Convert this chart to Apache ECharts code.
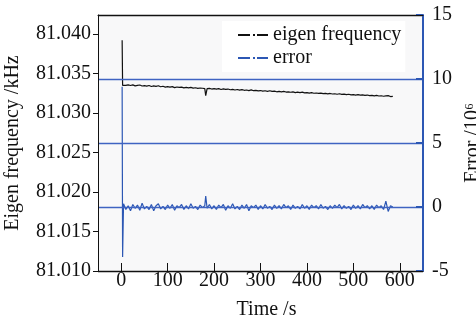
<!DOCTYPE html>
<html><head><meta charset="utf-8">
<script src="https://cdn.jsdelivr.net/npm/echarts@6/dist/echarts.min.js"></script>
<style>html,body{margin:0;padding:0;background:#fff}#c{width:476px;height:320px}</style>
</head><body><div id="c"></div>
<script>
const timeS = [2,3,5,10,15,20,25,30,35,40,45,50,55,60,65,70,75,80,85,90,95,100,105,110,115,120,125,130,135,140,145,150,155,160,165,170,175,180,182,
185,190,195,200,205,210,215,220,225,230,235,240,245,250,255,260,265,270,275,280,285,290,295,300,305,310,315,320,325,330,335,340,345,350,355,360,365,370,375,380,385,390,395,400,405,410,415,420,425,430,435,440,445,450,455,460,465,470,475,480,485,490,495,500,505,510,515,520,525,530,535,540,545,550,555,560,565,570,575,580,585];

const eigenFreq = [81.0392,81.0335,
81.03357,81.03349,81.03356,81.03348,81.03356,81.03343,81.03350,81.03354,81.03341,81.03346,
81.03340,81.03348,81.03335,81.03342,81.03336,81.03345,81.03332,81.03338,81.03328,81.03333,
81.03328,81.03334,81.03321,81.03329,81.03323,81.03328,81.03318,81.03323,81.03317,81.03324,
81.03315,81.03319,81.03311,81.03316,81.03313,81.03308,
81.0322,
81.03308,81.03312,81.03303,81.03308,81.03302,81.03308,81.03297,81.03304,81.03298,81.03303,
81.03294,81.03298,81.03291,81.03297,81.03290,81.03296,81.03287,81.03291,81.03283,81.03292,
81.03282,81.03286,81.03280,81.03284,81.03276,81.03281,81.03274,81.03281,81.03273,81.03277,
81.03268,81.03273,81.03267,81.03273,81.03265,81.03268,81.03262,81.03267,81.03258,81.03263,
81.03258,81.03263,81.03254,81.03258,81.03251,81.03257,81.03250,81.03253,81.03247,81.03252,
81.03245,81.03248,81.03241,81.03247,81.03240,81.03243,81.03237,81.03243,81.03235,81.03238,
81.03232,81.03237,81.03230,81.03233,81.03227,81.03232,81.03225,81.03228,81.03222,81.03227,
81.03220,81.03223,81.03217,81.03222,81.03215,81.03218,81.03212,81.03216,81.03220,81.03208,81.03211];

const errorVal = [9.4,-3.9,
0.25,-0.2,0.1,-0.3,0.2,-0.1,0.15,-0.25,0.3,-0.15,
0.05,-0.2,0.2,-0.3,0.1,0.25,-0.15,0.05,-0.2,0.15,
-0.1,0.2,-0.25,0.1,-0.05,0.2,-0.2,0.1,-0.15,0.25,
-0.1,0.05,-0.2,0.15,-0.05,0.1,
0.85,
-0.1,0.2,-0.15,0.1,-0.2,0.15,-0.05,0.2,-0.25,0.1,
-0.1,0.25,-0.15,0.05,-0.2,0.15,-0.1,0.2,-0.3,0.1,
-0.05,0.15,-0.2,0.1,-0.15,0.2,-0.1,0.05,-0.2,0.15,
-0.1,0.1,-0.15,0.2,-0.05,0.1,-0.2,0.15,-0.1,0.05,
-0.15,0.2,-0.1,0.1,-0.2,0.15,-0.05,0.1,-0.15,0.2,
-0.1,0.05,-0.2,0.1,-0.1,0.15,-0.05,0.2,-0.15,0.1,
-0.1,0.05,-0.2,0.15,-0.1,0.1,-0.15,0.2,-0.05,0.1,
-0.15,0.1,-0.2,0.15,-0.05,0.1,-0.2,0.45,-0.35,0.1,
0.0];

const freqTicks = [81.010,81.015,81.020,81.025,81.030,81.035,81.040];
const timeTicks = [0,100,200,300,400,500,600];
const seriesNames = ['eigen frequency','error'];
const axisNames = ['Eigen frequency /kHz','Error /10\u2076','Time /s'];

const FONT = 'Liberation Serif';
const FS = 20;
const BLUE = '#2c57b4';
const GRIDBLUE = '#3f63c2';
const dashDot = 'path://M0,7h12v2h-12z M15,7h2v2h-2z M19,7h11v2h-11z';

const chart = echarts.init(document.getElementById('c'), null, {renderer:'canvas'});
chart.setOption({
  animation:false,
  backgroundColor:'#fff',
  textStyle:{fontFamily:FONT},
  grid:{left:98,right:53,top:15,bottom:49,containLabel:false,outerBoundsMode:'none',
        show:true,backgroundColor:'#f8f8f9',borderWidth:0},
  legend:{
    data:[{name:seriesNames[0],icon:dashDot},{name:seriesNames[1],icon:dashDot}],
    orient:'vertical',left:222,top:21,backgroundColor:'#fff',
    padding:[4,4,4,16],itemWidth:30,itemHeight:16,itemGap:3,
    textStyle:{fontFamily:FONT,fontSize:FS,color:'#111'}
  },
  xAxis:[{
    type:'value',min:-50,max:650,position:'bottom',z:5,
    axisLine:{onZero:false,lineStyle:{color:'#111',width:1}},
    axisTick:{inside:true,length:8,customValues:timeTicks,lineStyle:{color:'#111'}},
    axisLabel:{customValues:timeTicks,fontFamily:FONT,fontSize:FS,color:'#111',margin:0},
    splitLine:{show:false},
    name:axisNames[2],nameLocation:'middle',nameGap:29,
    nameTextStyle:{fontFamily:FONT,fontSize:FS,color:'#111',padding:[0,0,0,12]}
  },{
    type:'value',min:-50,max:650,position:'top',z:5,
    axisLine:{onZero:false,lineStyle:{color:'#111',width:1}},
    axisTick:{show:false},axisLabel:{show:false},splitLine:{show:false}
  }],
  yAxis:[{
    type:'value',min:81.010,max:81.0424,position:'left',z:5,
    axisLine:{show:true,onZero:false,lineStyle:{color:'#111',width:1}},
    axisTick:{show:true,inside:false,length:5,customValues:freqTicks,lineStyle:{color:'#111'}},
    axisLabel:{customValues:freqTicks,formatter:v=>v.toFixed(3),fontFamily:FONT,fontSize:FS,color:'#111',margin:7},
    splitLine:{show:false},
    name:axisNames[0],nameLocation:'middle',nameRotate:90,nameGap:75,
    nameTextStyle:{fontFamily:FONT,fontSize:FS,color:'#111'}
  },{
    type:'value',min:-5,max:15,interval:5,position:'right',z:4,
    axisLine:{show:true,onZero:false,lineStyle:{color:BLUE,width:2}},
    axisTick:{show:true,inside:true,length:7,lineStyle:{color:BLUE,width:2}},
    axisLabel:{fontFamily:FONT,fontSize:FS,color:'#111',margin:9},
    splitLine:{show:true,lineStyle:{color:['#111',GRIDBLUE,GRIDBLUE,GRIDBLUE,'#111'],width:1.3}},
    name:axisNames[1],nameLocation:'middle',nameRotate:90,nameGap:31,
    nameTextStyle:{fontFamily:FONT,fontSize:FS,color:'#111'}
  }],
  series:[{
    name:seriesNames[1],type:'line',xAxisIndex:0,yAxisIndex:1,symbol:'none',
    color:BLUE,lineStyle:{color:BLUE,width:1.2},
    data:timeS.map((t,i)=>[t,errorVal[i]])
  },{
    name:seriesNames[0],type:'line',xAxisIndex:0,yAxisIndex:0,symbol:'none',
    color:'#111',lineStyle:{color:'#111',width:1.2},
    data:timeS.map((t,i)=>[t,eigenFreq[i]])
  }]
});
</script></body></html>
